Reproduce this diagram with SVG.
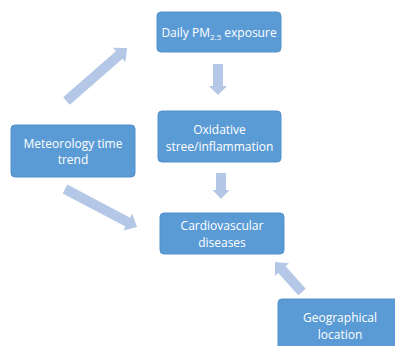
<svg xmlns="http://www.w3.org/2000/svg" width="395" height="346" viewBox="0 0 395 346">
<defs>
<style>
.box{fill:#5B9BD5;stroke:#5290CC;stroke-width:1}
.t{fill:#FFFFFF;font-family:"Open Sans","Liberation Sans",sans-serif;font-size:12px;text-anchor:middle}
.s{font-size:8px}
.arr{fill:#B4C7E7}
</style>
</defs>
<rect width="395" height="346" fill="#FFFFFF"/>
<g id="connectors">
<polygon class="arr" transform="translate(218,64) rotate(90)" points="0,-5 22,-5 22,-9 31,0 22,9 22,5 0,5"/>
<polygon class="arr" transform="translate(221,173) rotate(90)" points="0,-5 17,-5 17,-8.5 26,0 17,8.5 17,5 0,5"/>
<polygon class="arr" transform="translate(66.5,101) rotate(-41.2)" points="0,-5 70,-5 70,-9.5 80.5,0 70,9.5 70,5 0,5"/>
<polygon class="arr" transform="translate(65,189) rotate(27.8)" points="0,-5 71,-5 71,-9.5 81.4,0 71,9.5 71,5 0,5"/>
<polygon class="arr" transform="translate(302,292) rotate(-132)" points="0,-5 30,-5 30,-9.5 40.4,0 30,9.5 30,5 0,5"/>
</g>
<g id="pm25">
<rect class="box" x="157" y="12" width="124" height="40" rx="4"/>
<text class="t" x="219" y="37">Daily PM<tspan class="s" dy="3">2.5</tspan><tspan dy="-3"> exposure</tspan></text>
</g>
<g id="oxidative">
<rect class="box" x="158" y="111" width="123" height="51" rx="4"/>
<text class="t" x="219.5" y="134">Oxidative</text>
<text class="t" x="219.5" y="151">stree/inflammation</text>
</g>
<g id="cardio">
<rect class="box" x="160" y="213" width="124" height="41" rx="4"/>
<text class="t" x="222" y="230">Cardiovascular</text>
<text class="t" x="222" y="247">diseases</text>
</g>
<g id="meteorology">
<rect class="box" x="11" y="125" width="124" height="52" rx="4"/>
<text class="t" x="73" y="148">Meteorology time</text>
<text class="t" x="73" y="164">trend</text>
</g>
<g id="geo">
<rect class="box" x="278" y="299" width="124" height="52" rx="4"/>
<text class="t" x="340" y="322">Geographical</text>
<text class="t" x="340" y="339">location</text>
</g>
</svg>
